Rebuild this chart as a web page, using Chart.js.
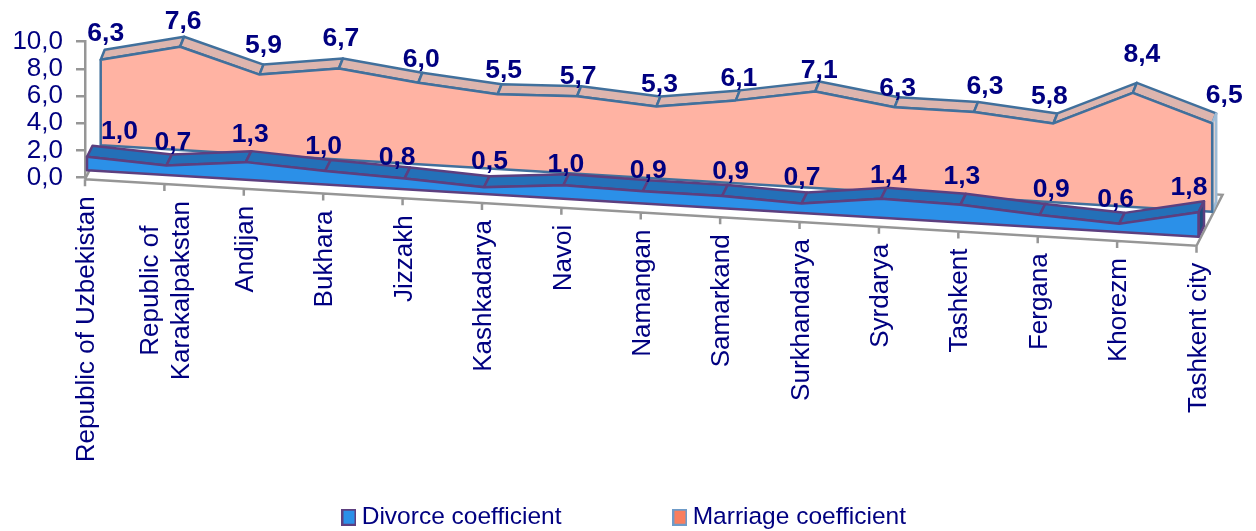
<!DOCTYPE html>
<html>
<head>
<meta http-equiv="Content-Type" content="text/html;charset=utf-8" />
<script src="https://cdn.jsdelivr.net/npm/chart.js@4"></script>
<style>
  body { margin: 0; background: #fff; }
</style>
</head>
<body>
<canvas id="areaChart" width="1256" height="531"></canvas>
<script type="text/javascript">
var categories = ["Republic of Uzbekistan", ["Republic of", "Karakalpakstan"], "Andijan", "Bukhara", "Jizzakh",
  "Kashkadarya", "Navoi", "Namangan", "Samarkand", "Surkhandarya", "Syrdarya", "Tashkent", "Fergana", "Khorezm", "Tashkent city"];
var divorce = [1.0, 0.7, 1.3, 1.0, 0.8, 0.5, 1.0, 0.9, 0.9, 0.7, 1.4, 1.3, 0.9, 0.6, 1.8];
var marriage = [6.3, 7.6, 5.9, 6.7, 6.0, 5.5, 5.7, 5.3, 6.1, 7.1, 6.3, 6.3, 5.8, 8.4, 6.5];

// hand placed nudges for the value labels, same as the dragged labels in the original
var divorceNudge = [[27,-14],[1,-12],[-1,-16],[-7,-13],[-13,-10],[0,-15],[-3,-10],[0,-10],[3,-13],[-5,-15],[2,-12],[-4,-17],[6,-14],[-9,-13],[-15,-14]];
var marriageNudge = [[1,-16],[-1,-15],[0,-19],[-2,-20],[-1,-13],[2,-14],[-3,-10],[-1,-12],[-1,-12],[0,-11],[-1,-8],[7,-15],[-8,-17],[5,-28],[8,-18]];

var navy = "#000080";
var fontName = "'Liberation Sans', Arial, sans-serif";
var slope = 0.0598; // the floor runs downhill to the right

var planes = [
  { dx: 2, dy: -7.3, backX: 5.5, backY: -11, front: "#2B90E8", top: "#2470B8", side: "#1F4E7E", line: "#5D3F7F", sideLine: "#5D3F7F" },
  { dx: 15.7, dy: -32.3, backX: 4, backY: -10, front: "#FFB3A3", top: "#DDB5AE", side: "#E3D2CE", line: "#41709C", sideLine: "#9DBBD6" }
];

function swatch(fill, edge) {
  var c = document.createElement("canvas");
  c.width = 15; c.height = 17;
  var x = c.getContext("2d");
  x.fillStyle = fill; x.fillRect(0, 0, 15, 17);
  x.strokeStyle = edge; x.lineWidth = 2; x.strokeRect(1, 1, 13, 15);
  return c;
}

function poly(ctx, pts, fill, stroke) {
  ctx.beginPath();
  pts.forEach(function (p, n) { n ? ctx.lineTo(p.x, p.y) : ctx.moveTo(p.x, p.y); });
  ctx.closePath();
  ctx.fillStyle = fill; ctx.fill();
  ctx.strokeStyle = stroke; ctx.lineWidth = 2.5; ctx.lineJoin = "round"; ctx.stroke();
}

// scale position -> sheared 3D position
function project(chart, i, v, plane, back) {
  var xs = chart.scales.x, ys = chart.scales.y;
  var px = xs.getPixelForValue(i);
  var y = ys.getPixelForValue(v) + slope * (px - xs.left);
  if (!plane) return { x: px, y: y + 1.7 };
  return { x: px + plane.dx + (back ? plane.backX : 0), y: y + plane.dy + (back ? plane.backY : 0) };
}

var area3d = {
  id: "area3d",
  afterLayout: function (chart) {
    // legend padding is only there for the item gap, so put the box back where it belongs
    chart.legend.top = 387;
    chart.legend.left += 29;
    chart.legend.right += 29;
  },
  beforeDatasetsDraw: function (chart) {
    var ctx = chart.ctx, n = categories.length, i;
    var a = project(chart, 0, 0), b = project(chart, n - 1, 0);
    ctx.save();
    ctx.strokeStyle = "#969696"; ctx.lineWidth = 2.5;
    ctx.beginPath();
    ctx.moveTo(a.x, a.y); ctx.lineTo(b.x, b.y);
    ctx.lineTo(b.x + 26, b.y - 51); ctx.lineTo(a.x + 26, a.y - 51); ctx.lineTo(a.x, a.y);
    for (i = 0; i < n; i++) {
      var t = project(chart, i, 0);
      ctx.moveTo(t.x, t.y); ctx.lineTo(t.x, t.y + 7);
    }
    ctx.stroke();

    ctx.fillStyle = navy;
    ctx.font = "26px " + fontName;
    ctx.textBaseline = "middle";
    ctx.textAlign = "center";
    categories.forEach(function (label, idx) {
      var lines = [].concat(label);
      var p = project(chart, idx, 0);
      var w = Math.max.apply(null, lines.map(function (s) { return ctx.measureText(s).width; }));
      lines.forEach(function (s, l) {
        ctx.save();
        ctx.translate(p.x + 2 + (l - (lines.length - 1) / 2) * 31, p.y + 17 + w / 2);
        ctx.rotate(-Math.PI / 2);
        ctx.fillText(s, 0, 0);
        ctx.restore();
      });
    });
    ctx.restore();
  },
  beforeDatasetDraw: function (chart, args) {
    var ctx = chart.ctx, plane = planes[args.index];
    var data = chart.data.datasets[args.index].data;
    var last = data.length - 1, i;
    ctx.save();
    // top ribbon, one quad per segment so the cross lines show
    for (i = 0; i < last; i++) {
      poly(ctx, [project(chart, i, data[i], plane), project(chart, i, data[i], plane, true),
        project(chart, i + 1, data[i + 1], plane, true), project(chart, i + 1, data[i + 1], plane)], plane.top, plane.line);
    }
    // right end
    poly(ctx, [project(chart, last, data[last], plane), project(chart, last, data[last], plane, true),
      project(chart, last, 0, plane, true), project(chart, last, 0, plane)], plane.side, plane.sideLine);
    // front face
    var pts = data.map(function (v, k) { return project(chart, k, v, plane); });
    pts.push(project(chart, last, 0, plane), project(chart, 0, 0, plane));
    poly(ctx, pts, plane.front, plane.line);
    ctx.restore();
  },
  afterDatasetsDraw: function (chart) {
    var ctx = chart.ctx;
    ctx.save();
    ctx.fillStyle = navy;
    ctx.font = "bold 26.5px " + fontName;
    ctx.textAlign = "center";
    ctx.textBaseline = "middle";
    [marriageNudge, divorceNudge].forEach(function (nudge, s) {
      var idx = 1 - s, data = chart.data.datasets[idx].data;
      data.forEach(function (v, i) {
        var p = project(chart, i, v, planes[idx], true);
        ctx.fillText(v.toFixed(1).replace(".", ","), p.x + nudge[i][0], p.y + nudge[i][1]);
      });
    });
    ctx.restore();
  }
};

var ctx = document.getElementById("areaChart").getContext("2d");
var chart = new Chart(ctx, {
  type: "line",
  data: {
    labels: categories,
    datasets: [
      { label: "Divorce coefficient", data: divorce, showLine: false, pointRadius: 0, backgroundColor: "#2B90E8", pointStyle: swatch("#2B90E8", "#5D3F7F") },
      { label: "Marriage coefficient", data: marriage, showLine: false, pointRadius: 0, backgroundColor: "#FF7F5F", pointStyle: swatch("#F97E5E", "#6E9BC8") }
    ]
  },
  options: {
    responsive: false,
    animation: false,
    layout: { padding: { top: 41.7, right: 59.5, left: 0, bottom: 0 } },
    scales: {
      x: {
        grid: { display: false },
        border: { display: false },
        ticks: { display: false },
        afterFit: function (scale) { scale.height = 200.9; }
      },
      y: {
        min: 0,
        max: 10,
        afterFit: function (scale) { scale.width = 85; },
        grid: { drawOnChartArea: false, drawTicks: true, tickLength: 9, color: "#969696", lineWidth: 2.5 },
        border: { color: "#969696", width: 2.5 },
        ticks: {
          stepSize: 2,
          autoSkip: false,
          padding: 13,
          color: navy,
          font: { family: fontName, size: 26 },
          callback: function (v) { return v.toFixed(1).replace(".", ","); }
        }
      }
    },
    plugins: {
      tooltip: { enabled: false },
      legend: {
        position: "bottom",
        labels: {
          usePointStyle: true,
          pointStyleWidth: 1,
          padding: 118,
          color: navy,
          font: { family: fontName, size: 24.5 }
        }
      }
    }
  },
  plugins: [area3d]
});
</script>
</body>
</html>
